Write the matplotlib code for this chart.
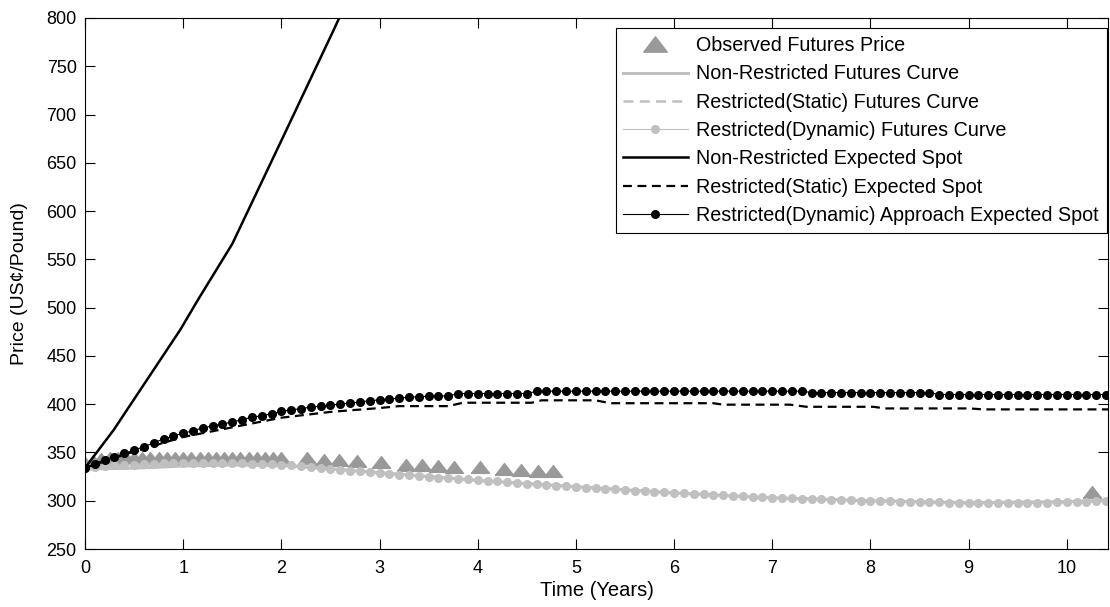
import matplotlib
matplotlib.use('Agg')
import matplotlib.pyplot as plt
import numpy as np

# fonts - Liberation Sans looks like the Arial of the original (MATLAB) figure
plt.rcParams['font.family'] = ['Liberation Sans', 'DejaVu Sans']
plt.rcParams['font.size'] = 13

# ---------------- data ----------------

# observed futures prices (triangles)
obs_t = [0, 1/12, 2/12, 3/12, 4/12, 5/12, 6/12, 7/12, 8/12, 9/12, 10/12, 11/12, 1.0,
         13/12, 14/12, 15/12, 16/12, 17/12, 18/12, 19/12, 20/12, 21/12, 22/12, 23/12, 2.0,
         2.26, 2.43, 2.59, 2.77, 3.01, 3.27, 3.43, 3.60, 3.76, 4.02, 4.27, 4.44, 4.61, 4.77,
         10.26]
obs_price = [339, 341, 343, 344, 344.5, 344.5, 344.5, 344.5, 344.5, 344.5, 344.5, 344.5, 344.5,
             344.5, 344.5, 344.5, 344.5, 344.5, 344.5, 344.5, 344.5, 344.5, 344.5, 344.5, 344.5,
             344.4, 342.6, 342.6, 341, 340, 337.5, 337.5, 336, 335, 335, 333, 331.5, 330.5, 330.5,
             309.5]

# non-restricted futures curve (solid light grey)
nr_fut_t = [0, 0.4, 0.7, 1.0, 1.5, 2.0, 2.5, 3.0, 3.5, 4.0, 5.0, 6.0, 7.0, 8.0, 9.0, 10.0, 10.42]
nr_fut = [333, 333.5, 334.5, 336, 337, 336.5, 333, 329, 325, 321, 314.5, 308, 303, 300, 298, 299, 300.5]

# restricted (static) futures curve (dashed light grey)
st_fut_t = [0, 0.5, 1.0, 1.5, 2.0, 2.5, 3.0, 3.5, 4.0, 5.0, 6.0, 7.0, 8.0, 9.0, 10.0, 10.42]
st_fut = [334, 337, 338.5, 338.5, 337.5, 333, 329, 325, 321, 314.5, 308, 303, 300, 297.5, 298.5, 300]

# restricted (dynamic) futures curve - dots every 0.1 year
dyn_t = [round(0.1 * i, 1) for i in range(105)]
dyn_fut = [334, 335, 336, 336.5, 337, 337.5, 338, 338.5, 339, 339,
           339, 339, 339, 339, 339, 339, 339, 338.5, 338.5, 338,
           337, 336.5, 335.5, 334.5, 333.5, 333, 332, 331, 330.5, 329.5,
           329, 328, 327, 326.5, 325.5, 325, 324, 323.5, 322.5, 322,
           321, 320.5, 320, 319, 318.5, 317.5, 317, 316, 315.5, 315,
           314.5, 313.5, 313, 312.5, 312, 311, 310.5, 310, 309.5, 309,
           308, 307.5, 307, 306.5, 306, 305.5, 305, 304.5, 304, 303.5,
           303, 302.5, 302.5, 302, 301.5, 301.5, 301, 300.5, 300.5, 300,
           300, 299.5, 299.5, 299, 299, 298.5, 298.5, 298.5, 298, 298,
           297.5, 297.5, 297.5, 297.5, 297.5, 297.5, 298, 298, 298, 298.5,
           298.5, 299, 299, 299.5, 300]

# non-restricted expected spot (solid black, runs off the top)
nr_spot_t = [0, 0.29, 0.63, 0.97, 1.15, 1.5, 2.0, 2.53, 3.0]
nr_spot = [334, 373, 425, 477, 508, 566, 673, 787, 890]

# restricted (static) expected spot (dashed black)
st_spot_t = [0, 0.5, 1.0, 1.5, 2.0, 2.5, 3.0, 3.2, 3.7, 3.85, 4.55, 4.65, 5.2, 5.35,
             6.4, 6.5, 7.18, 7.35, 8.03, 8.15, 9.01, 9.15, 10.42]
st_spot = [334, 351, 366, 376, 386, 392, 396, 398, 398, 401.5, 401.5, 404, 404, 401,
           401, 399.5, 399.5, 397.3, 397.3, 395.6, 395.6, 394.6, 394.6]

# restricted (dynamic) expected spot - dots every 0.1 year
dyn_spot = [334, 338.5, 342.5, 345.5, 349, 352.5, 356, 360, 364, 367,
            370, 372.5, 375.5, 377.5, 379.5, 381.5, 384, 386.5, 388, 390,
            392.5, 394, 395.5, 397, 398, 399, 400, 401, 402.5, 403.5,
            404.5, 405.5, 406, 407.5, 407.5, 408.5, 408.5, 408.5, 411, 411,
            411, 411, 411, 411, 411, 411] + [413.5] * 28 + [412] * 13 + [410] * 18

# ---------------- plot ----------------

fig = plt.figure(figsize=(11.1, 6.07), dpi=100)
ax = fig.add_axes([85/1110, 58/607, 1023/1110, 531/607])

light = '#c0c0c0'
tri_col = '#999999'

# squat triangle like the matlab one
tri = [(-1, -0.65), (1, -0.65), (0, 0.65), (-1, -0.65)]

ax.plot(obs_t, obs_price, linestyle='none', marker=tri, markersize=13,
        color=tri_col, markeredgecolor=tri_col, label='Observed Futures Price')
ax.plot(nr_fut_t, nr_fut, color=light, lw=2.2, label='Non-Restricted Futures Curve')
ax.plot(st_fut_t, st_fut, color=light, lw=1.8, ls=(0, (4, 2.5)),
        label='Restricted(Static) Futures Curve')
ax.plot(dyn_t, dyn_fut, color=light, lw=0.8, marker='o', markersize=5.5,
        markeredgecolor=light, label='Restricted(Dynamic) Futures Curve')
ax.plot(nr_spot_t, nr_spot, color='black', lw=1.8, label='Non-Restricted Expected Spot')
ax.plot(st_spot_t, st_spot, color='black', lw=1.6, ls=(0, (4, 2.5)),
        label='Restricted(Static) Expected Spot')
ax.plot(dyn_t, dyn_spot, color='black', lw=0.8, marker='o', markersize=5.5,
        label='Restricted(Dynamic) Approach Expected Spot')

ax.set_xlim(0, 10.42)
ax.set_ylim(250, 800)
ax.set_xticks(range(0, 11))
ax.set_yticks(range(250, 801, 50))

# matlab style box: ticks inside on all four sides
ax.tick_params(direction='in', length=7.5, width=0.8, top=True, right=True,
               labelsize=13, pad=6)
ax.tick_params(axis='x', pad=8)
for s in ax.spines.values():
    s.set_linewidth(0.8)

ax.set_xlabel('Time (Years)', fontsize=14.5, labelpad=3)
ax.set_ylabel('Price (US¢/Pound)', fontsize=14, labelpad=13)

leg = ax.legend(loc='upper right', bbox_to_anchor=(1106.7/1110, 1 - 28.3/607),
                bbox_transform=fig.transFigure, borderaxespad=0, fancybox=False,
                edgecolor='black', framealpha=1, numpoints=1, handlelength=3.25,
                handletextpad=0.44, labelspacing=0.47, fontsize=14.2, borderpad=0.4)
leg.get_frame().set_linewidth(0.8)
# the triangle in the legend is drawn a bit bigger in the original
leg.legend_handles[0].set_markersize(17)

fig.savefig('out.png', dpi=100)
